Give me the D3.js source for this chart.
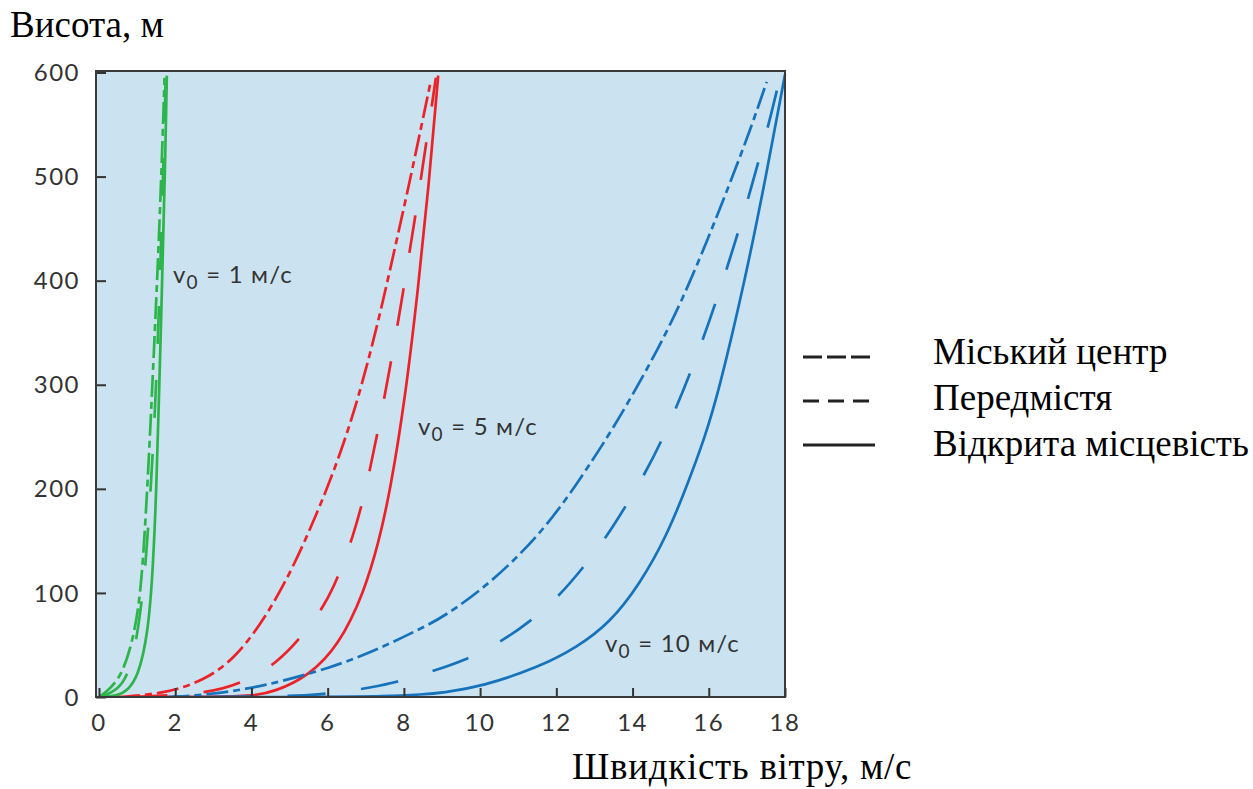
<!DOCTYPE html>
<html><head><meta charset="utf-8">
<script src="https://cdn.jsdelivr.net/npm/d3@7"></script>
<style>body{margin:0;background:#fff}svg{display:block}</style>
</head><body>
<svg id="c" width="1253" height="789"></svg>
<script>
// ---- data (wind speed m/s, height m) ----
const xTickValues = [0, 2, 4, 6, 8, 10, 12, 14, 16, 18];
const yTickValues = [0, 100, 200, 300, 400, 500, 600];

const legendLabels = ["Міський центр", "Передмістя", "Відкрита місцевість"];
const curveLabels = ["1 м/с", "5 м/с", "10 м/с"];

// v0 = 1 m/s (green)
const green_city = [[0,0],[0.16,4],[0.6,19],[0.94,61],[1.12,109],[1.25,189],[1.34,253],[1.4,300],[1.47,355],[1.56,430],[1.65,515],[1.72,595]];
const green_suburb = [[0,0],[0.35,4],[0.7,15],[0.94,45],[1.1,85],[1.22,125],[1.33,185],[1.42,240],[1.5,300],[1.58,380],[1.65,460],[1.71,540],[1.75,595]];
const green_open = [[0,0],[0.5,1],[0.76,7],[1.02,19],[1.29,61],[1.42,125],[1.51,205],[1.57,285],[1.63,360],[1.69,451],[1.74,520],[1.78,597]];
// v0 = 5 m/s (red)
const red_city = [[0.5,0],[1.7,3],[2.78,16],[3.6,38],[4.44,80],[5.14,128],[5.75,179],[6.27,227],[6.8,286],[7.32,359],[7.77,432],[8.2,503],[8.69,589]];
const red_suburb = [[0.8,0],[2.8,3],[3.74,13],[4.66,32],[5.32,58],[5.93,88],[6.33,120],[6.67,155],[6.93,189],[7.14,224],[7.33,258],[7.5,290],[7.7,330],[7.87,365],[8.04,403],[8.19,437],[8.35,474],[8.49,509],[8.66,550],[8.84,595]];
const red_open = [[0.8,0],[3,0],[4.05,1],[4.6,5],[5.5,20],[6.3,50],[6.95,100],[7.35,150],[7.65,200],[8.03,286],[8.36,388],[8.65,490],[8.9,597]];
// v0 = 10 m/s (blue)
const blue_city = [[1.8,0],[2.85,2],[4.3,10],[6.1,28],[7.4,47],[8.45,66],[9.05,77],[10.3,110],[11.6,157],[12.55,205],[13.35,250],[13.95,287],[14.65,333],[15.3,381],[16.0,442],[16.58,496],[17.08,544],[17.52,591]];
const blue_suburb = [[3,0],[4.5,0.5],[5.8,2],[6.8,7],[7.7,13],[8.6,23],[9.6,35],[10.5,52],[11.3,72],[12.05,96],[12.7,124],[13.3,153],[13.8,182],[14.33,215],[14.75,245],[15.17,280],[15.52,312],[15.88,347],[16.2,381],[16.52,417],[16.8,450],[17.08,485],[17.33,518],[17.6,554],[17.88,597]];
const blue_open = [[2.5,0],[6,0],[7.5,0.5],[8.5,2.5],[9,4],[10.04,10],[11.57,29],[12.55,48],[13.4,71],[14.2,109],[14.9,155],[15.45,205],[15.9,250],[16.25,292],[16.95,400],[17.5,500],[18,598]];

// ---- layout ----
const svg = d3.select("#c");
const frame = {l: 96, r: 785, t: 71, b: 697};
const x = d3.scaleLinear().domain([0, 18]).range([99, 785]);
const y = d3.scaleLinear().domain([0, 600]).range([697, 72.5]);

const colors = {green: "#2db54b", red: "#ec2229", blue: "#1672ba"};
const dashes = {city: "22,5,7,5", suburb: "38,36", open: null};

svg.append("rect").attr("x", frame.l).attr("y", frame.t)
  .attr("width", frame.r - frame.l).attr("height", frame.b - frame.t)
  .attr("fill", "#cbe3f0");

svg.append("clipPath").attr("id", "clip").append("rect")
  .attr("x", frame.l).attr("y", frame.t - 2)
  .attr("width", frame.r - frame.l + 2).attr("height", frame.b - frame.t + 2);

const line = d3.line().x(d => x(d[0])).y(d => y(d[1])).curve(d3.curveBasis);

const series = [
  [green_city, "green", "city"], [green_suburb, "green", "suburb"], [green_open, "green", "open"],
  [red_city, "red", "city"], [red_suburb, "red", "suburb"], [red_open, "red", "open"],
  [blue_city, "blue", "city"], [blue_suburb, "blue", "suburb"], [blue_open, "blue", "open"]
];
const gLines = svg.append("g").attr("clip-path", "url(#clip)");
gLines.selectAll("path").data(series).join("path")
  .attr("d", d => line(d[0]))
  .attr("fill", "none")
  .attr("stroke", d => colors[d[1]])
  .attr("stroke-width", 2.7)
  .attr("stroke-dasharray", d => dashes[d[2]]);

// axes
const tickColor = "#333";
const fontTick = "Lato, 'DejaVu Sans', sans-serif";
const yAxis = svg.append("g").attr("transform", `translate(${frame.l},0)`)
  .call(d3.axisRight(y).tickValues(yTickValues).tickSize(10).tickFormat(""));
yAxis.select(".domain").remove();
yAxis.selectAll("line").attr("stroke", tickColor).attr("stroke-width", 2);

const xAxis = svg.append("g").attr("transform", `translate(0,${frame.b})`)
  .call(d3.axisTop(x).tickValues(xTickValues).tickSize(9).tickFormat(""));
xAxis.select(".domain").remove();
xAxis.selectAll("line").attr("stroke", tickColor).attr("stroke-width", 2);

svg.append("rect").attr("x", frame.l).attr("y", frame.t)
  .attr("width", frame.r - frame.l).attr("height", frame.b - frame.t)
  .attr("fill", "none").attr("stroke", "#3a3a3a").attr("stroke-width", 2);

svg.append("g").selectAll("text").data(yTickValues).join("text")
  .attr("x", 80).attr("y", d => y(d)).attr("dy", "0.36em")
  .attr("text-anchor", "end")
  .attr("font-family", fontTick).attr("font-size", 24).attr("letter-spacing", 1.5)
  .attr("fill", tickColor).text(d => d);

svg.append("g").selectAll("text").data(xTickValues).join("text")
  .attr("x", d => x(d)).attr("y", 731)
  .attr("text-anchor", "middle")
  .attr("font-family", fontTick).attr("font-size", 24).attr("letter-spacing", 1.5)
  .attr("fill", tickColor).text(d => d);

// curve labels
const labelPos = [[173, 283], [418, 435], [605, 652]];
curveLabels.forEach((t, i) => {
  const tx = svg.append("text").attr("x", labelPos[i][0]).attr("y", labelPos[i][1])
    .attr("font-family", fontTick).attr("font-size", 24).attr("letter-spacing", 1.2).attr("fill", "#333");
  tx.append("tspan").text("v");
  tx.append("tspan").attr("dy", 6).attr("font-size", 19).text("0");
  tx.append("tspan").attr("dy", -6).text(" = " + t);
});

// titles
const serif = "'Liberation Serif', 'Times New Roman', serif";
svg.append("text").attr("x", 10).attr("y", 37).attr("font-family", serif)
  .attr("font-size", 37).attr("fill", "#000").text("Висота, м");
svg.append("text").attr("x", 572).attr("y", 779).attr("font-family", serif)
  .attr("font-size", 37).attr("letter-spacing", 0.7).attr("fill", "#000").text("Швидкість вітру, м/с");

// legend
const legDash = ["19,5", "16,9", null];
const legY = [357, 401, 445];
const legTextY = [364, 410, 456];
legendLabels.forEach((t, i) => {
  svg.append("line").attr("x1", 803).attr("x2", 875).attr("y1", legY[i]).attr("y2", legY[i])
    .attr("stroke", "#222").attr("stroke-width", 3.2).attr("stroke-dasharray", legDash[i]);
  svg.append("text").attr("x", 933).attr("y", legTextY[i]).attr("font-family", serif)
    .attr("font-size", 37).attr("fill", "#000").text(t);
});
</script>
</body></html>
